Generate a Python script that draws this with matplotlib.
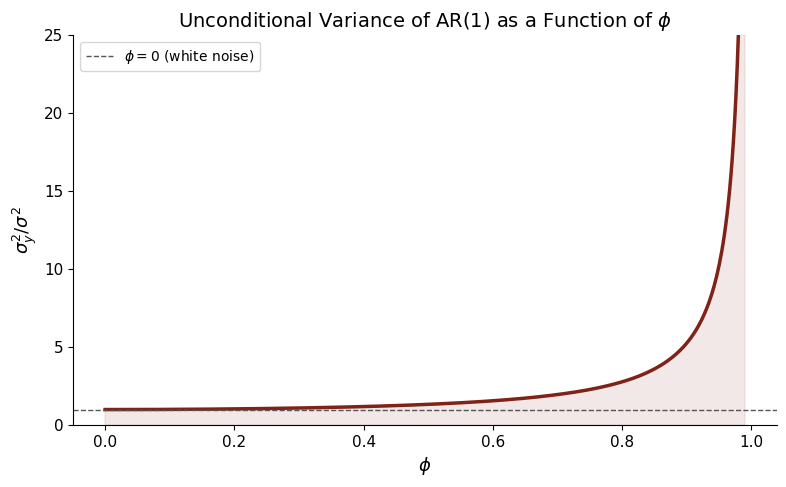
import numpy as np
import matplotlib.pyplot as plt

# AR(1) unconditional variance ratio: sigma_y^2 / sigma^2 = 1 / (1 - phi^2)
phi_start = 0.0
phi_stop = 0.99
n_points = 500
white_noise_level = 1.0

phi = np.linspace(phi_start, phi_stop, n_points)
variance_ratio = 1.0 / (1.0 - phi ** 2)

line_color = '#7f2218'

fig, ax = plt.subplots(figsize=(7.86, 4.87), dpi=100)

ax.plot(phi, variance_ratio, color=line_color, linewidth=2.5)
ax.fill_between(phi, 0, variance_ratio, color=line_color, alpha=0.1)
ax.axhline(white_noise_level, color='#555555', linestyle='--', linewidth=1,
           label=r'$\phi = 0$ (white noise)')

ax.set_ylim(0, 25)
ax.set_title(r'Unconditional Variance of AR(1) as a Function of $\phi$', fontsize=14)
ax.set_xlabel(r'$\phi$', fontsize=13)
ax.set_ylabel(r'$\sigma_y^2 / \sigma^2$', fontsize=13)
ax.tick_params(labelsize=11)
ax.spines['top'].set_visible(False)
ax.spines['right'].set_visible(False)
ax.legend(loc='upper left', fontsize=10)

plt.subplots_adjust(left=0.093, right=0.9885, top=0.928, bottom=0.127)
plt.savefig('out.png')
